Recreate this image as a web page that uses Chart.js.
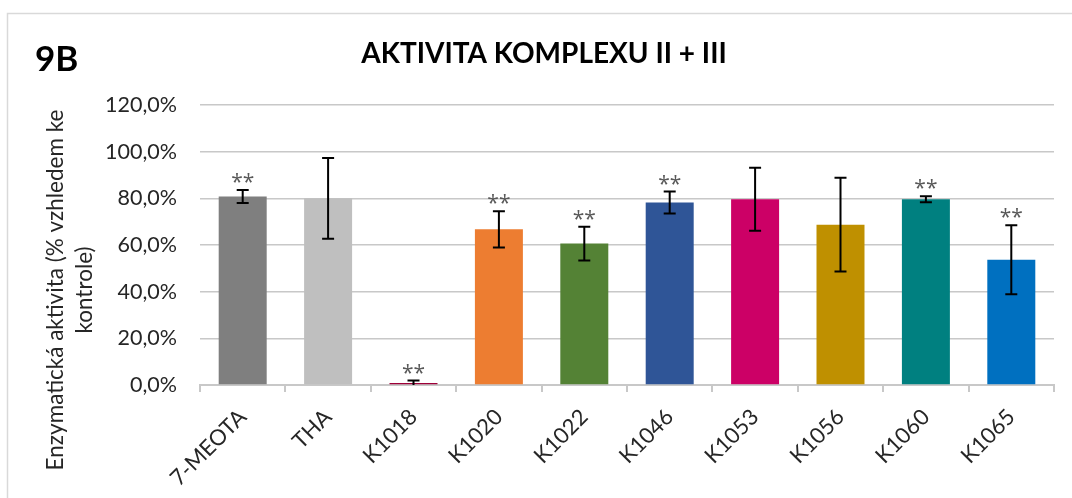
<!DOCTYPE html>
<html><head><meta charset="utf-8">
<script src="https://cdn.jsdelivr.net/npm/chart.js@4.4.1/dist/chart.umd.min.js"></script>
<style>html,body{margin:0;padding:0;background:#fff;} canvas{display:block;}</style>
</head><body>
<canvas id="c" width="1072" height="498"></canvas>
<script>
// Complex II + III activity relative to control, mean ± SD
const categories = ['7-MEOTA', 'THA', 'K1018', 'K1020', 'K1022', 'K1046', 'K1053', 'K1056', 'K1060', 'K1065'];
const activity = [80.8, 80.0, 0.9, 66.7, 60.6, 78.2, 79.6, 68.7, 79.6, 53.7];
const sdev = [2.8, 17.3, 1.0, 7.8, 7.2, 4.7, 13.5, 20.1, 1.3, 14.8];
const significance = ['**', '', '**', '**', '**', '**', '', '', '**', '**'];
const barColors = ['#7f7f7f', '#bfbfbf', '#9e0039', '#ed7d31', '#548235', '#2f5597', '#cc0066', '#bf9000', '#008080', '#0070c0'];
const yMin = 0, yMax = 120, yStep = 20;
const chartTitle = 'AKTIVITA KOMPLEXU II + III';
const panelLabel = '9B';
const yTitleLines = ['Enzymatická aktivita (% vzhledem ke', 'kontrole)'];

const FONT = 'Lato, "Open Sans", sans-serif';
const GRID = '#c8c8c8';
const TEXT = '#262626';

const decor = {
  id: 'decor',
  beforeDraw(chart) {
    const ctx = chart.ctx;
    ctx.save();
    ctx.fillStyle = '#fff';
    ctx.fillRect(0, 0, chart.width, chart.height);
    ctx.strokeStyle = '#d9d9d9';
    ctx.lineWidth = 1.5;
    ctx.strokeRect(7.5, 13.5, chart.width + 20, chart.height + 20);
    ctx.restore();
  },
  afterDatasetsDraw(chart) {
    const ctx = chart.ctx, ys = chart.scales.y;
    const meta = chart.getDatasetMeta(0);
    ctx.save();
    meta.data.forEach((bar, i) => {
      const x = bar.x;
      const hi = ys.getPixelForValue(activity[i] + sdev[i]);
      const lo = ys.getPixelForValue(Math.max(yMin, activity[i] - sdev[i]));
      ctx.strokeStyle = '#000';
      ctx.lineWidth = 2;
      ctx.beginPath();
      ctx.moveTo(x, hi); ctx.lineTo(x, lo);
      ctx.moveTo(x - 6, hi); ctx.lineTo(x + 6, hi);
      if (activity[i] - sdev[i] > yMin) { ctx.moveTo(x - 6, lo); ctx.lineTo(x + 6, lo); }
      ctx.stroke();
      if (significance[i]) {
        ctx.fillStyle = '#595959';
        ctx.font = '21px "Open Sans", sans-serif';
        ctx.textAlign = 'center';
        ctx.textBaseline = 'alphabetic';
        ctx.fillText(significance[i], x, hi - 1);
      }
    });
    ctx.restore();
  },
  afterDraw(chart) {
    const ctx = chart.ctx;
    ctx.save();
    ctx.fillStyle = '#000';
    ctx.textBaseline = 'alphabetic';
    ctx.font = 'bold 35px ' + FONT;
    ctx.textAlign = 'left';
    ctx.fillText(panelLabel, 35, 71);
    ctx.font = 'bold 28px ' + FONT;
    ctx.textAlign = 'center';
    ctx.fillText(chartTitle, 544, 63);
    // rotated axis title, centred over the plot and category labels
    ctx.fillStyle = TEXT;
    ctx.font = '22.5px ' + FONT;
    ctx.translate(0, 290);
    ctx.rotate(-Math.PI / 2);
    ctx.textBaseline = 'middle';
    ctx.fillText(yTitleLines[0], 0, 56);
    ctx.fillText(yTitleLines[1], 0, 85);
    ctx.restore();
  }
};

new Chart(document.getElementById('c'), {
  type: 'bar',
  data: {
    labels: categories,
    datasets: [{
      data: activity,
      backgroundColor: barColors,
      borderWidth: 0,
      categoryPercentage: 1,
      barPercentage: 0.562
    }]
  },
  options: {
    responsive: false,
    animation: false,
    events: [],
    layout: { padding: { left: 0, top: 105, right: 18, bottom: 0 } },
    plugins: { legend: { display: false }, title: { display: false }, tooltip: { enabled: false } },
    scales: {
      x: {
        offset: true,
        grid: { offset: true, drawOnChartArea: false, drawTicks: true, tickLength: 7, color: GRID, lineWidth: 2 },
        border: { display: true, color: GRID, width: 2 },
        ticks: { minRotation: 45, maxRotation: 45, color: TEXT, font: { family: FONT, size: 22 }, padding: 12 },
        afterFit(axis) { axis.height = 113; }
      },
      y: {
        min: yMin, max: yMax,
        grid: { drawTicks: false, color: GRID, lineWidth: 1.5 },
        border: { display: false },
        ticks: {
          stepSize: yStep,
          padding: 23,
          color: TEXT,
          font: { family: FONT, size: 21.5 },
          callback: v => v.toFixed(1).replace('.', ',') + '%'
        },
        afterFit(axis) { axis.width = 200; }
      }
    }
  },
  plugins: [decor]
});
</script>
</body></html>
